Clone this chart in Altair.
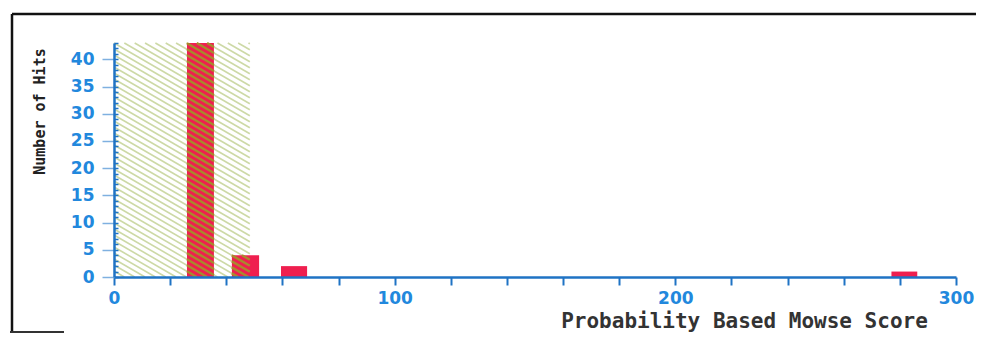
import altair as alt
import numpy as np
import pandas as pd

# ---- data ----
score_lo = [26.0, 42.0, 59.5, 277.0]
score_hi = [35.6, 51.7, 68.8, 286.2]
hits = [43, 4, 2, 1]
threshold_lo = 0.0
threshold_hi = 48.4
x_ticks = list(range(0, 301, 20))
y_major = list(range(0, 41, 5))
y_minor = list(range(0, 44))
x_title = "Probability Based Mowse Score"
y_title = "Number of Hits"

Y_MAX = 43
W, H = 842, 234
BLUE = "#1f73c4"
LABEL_BLUE = "#2288dd"
RED = "#ef1f4f"

bars_df = pd.DataFrame({"lo": score_lo, "hi": score_hi, "hits": hits})

# hatch lines (decoration) in data space: y = b - k*x
px_x = W / 300.0
px_y = H / Y_MAX
k = 0.58 * px_x / px_y
step = 6.0 / px_y


def hatch(x0, x1, y0, y1):
    rows = []
    b = 0.0
    bmax = Y_MAX + k * threshold_hi + step
    while b <= bmax:
        xa = max(x0, (b - y1) / k)
        xb = min(x1, (b - y0) / k)
        if xa < xb:
            rows.append({"x": xa, "y": b - k * xa, "x2": xb, "y2": b - k * xb})
        b += step
    return rows


bg_rows = hatch(threshold_lo, threshold_hi, 0, Y_MAX)
fg_rows = []
for lo, hi, h in zip(score_lo, score_hi, hits):
    a, c = max(lo, threshold_lo), min(hi, threshold_hi)
    if a < c:
        fg_rows += hatch(a, c, 0, h)

xscale = alt.Scale(domain=[0, 300], nice=False, zero=False)
yscale = alt.Scale(domain=[0, Y_MAX], nice=False)

x_axis = alt.Axis(
    values=x_ticks,
    labelExpr="datum.value % 100 == 0 ? datum.label : ''",
    labelFlush=False,
    tickSize=8, tickWidth=2, tickColor=BLUE,
    domainColor=BLUE, domainWidth=2.5,
    labelColor=LABEL_BLUE, labelFont="DejaVu Sans", labelFontWeight="bold",
    labelFontSize=17, labelPadding=5, grid=False, zindex=1,
    title=x_title, titleFont="DejaVu Sans Mono", titleFontSize=21,
    titleFontWeight="bold", titleColor="#333333",
    titleX=630, titleY=44, titleAlign="center", titleBaseline="middle",
)
y_axis = alt.Axis(
    orient="left", values=y_major, tickSize=12, tickWidth=1.5,
    tickColor="#7fb0e0", domainColor=BLUE, domainWidth=2.5,
    labelColor=LABEL_BLUE, labelFont="DejaVu Sans", labelFontWeight="bold",
    labelFontSize=17, labelPadding=8, grid=False, zindex=1,
    title=y_title, titleFont="DejaVu Sans Mono", titleFontSize=15,
    titleFontWeight="bold", titleColor="#222222", titleAngle=270,
    titleX=-75, titleY=68, titleAlign="center", titleBaseline="middle",
)
y_minor_axis = alt.Axis(
    orient="right", offset=-W, values=y_minor, tickSize=4, tickWidth=1.5,
    tickColor=BLUE, labels=False, domain=False, grid=False, title=None,
    zindex=1,
)

hatch_bg = alt.Chart(pd.DataFrame(bg_rows)).mark_rule(
    color="#cdd9a6", strokeWidth=1.6
).encode(
    x=alt.X("x:Q", scale=xscale, axis=None),
    x2="x2:Q",
    y=alt.Y("y:Q", scale=yscale, axis=y_minor_axis),
    y2="y2:Q",
)

bars = alt.Chart(bars_df).mark_rect(color=RED).encode(
    x=alt.X("lo:Q", scale=xscale, axis=x_axis),
    x2="hi:Q",
    y=alt.Y("hits:Q", scale=yscale, axis=y_axis),
    y2=alt.datum(0),
)

hatch_fg = alt.Chart(pd.DataFrame(fg_rows)).mark_rule(
    color="#a88a2c", strokeWidth=2.4
).encode(
    x=alt.X("x:Q", scale=xscale, axis=None),
    x2="x2:Q",
    y=alt.Y("y:Q", scale=yscale, axis=None),
    y2="y2:Q",
)

one = alt.Data(values=[{}])
frame_left = alt.Chart(one).mark_rule(color="#111111", strokeWidth=2.5).encode(
    x=alt.value(-102), y=alt.value(-29), y2=alt.value(289)
)
frame_top = alt.Chart(one).mark_rule(color="#111111", strokeWidth=2.5).encode(
    x=alt.value(-102), x2=alt.value(862), y=alt.value(-29)
)
frame_bottom = alt.Chart(one).mark_rule(color="#333333", strokeWidth=2).encode(
    x=alt.value(-104), x2=alt.value(-50), y=alt.value(289)
)

chart = (
    alt.layer(hatch_bg, bars, hatch_fg, frame_left, frame_top, frame_bottom)
    .resolve_scale(y="shared", x="shared")
    .resolve_axis(y="independent", x="independent")
    .properties(
        width=W, height=H,
        autosize=alt.AutoSizeParams(type="none"),
        padding={"left": 106, "top": 35, "right": 20, "bottom": 56},
        background="white",
    )
    .configure_view(stroke=None)
)

chart.save("out.html", embed_options={"renderer": "svg", "actions": False})
